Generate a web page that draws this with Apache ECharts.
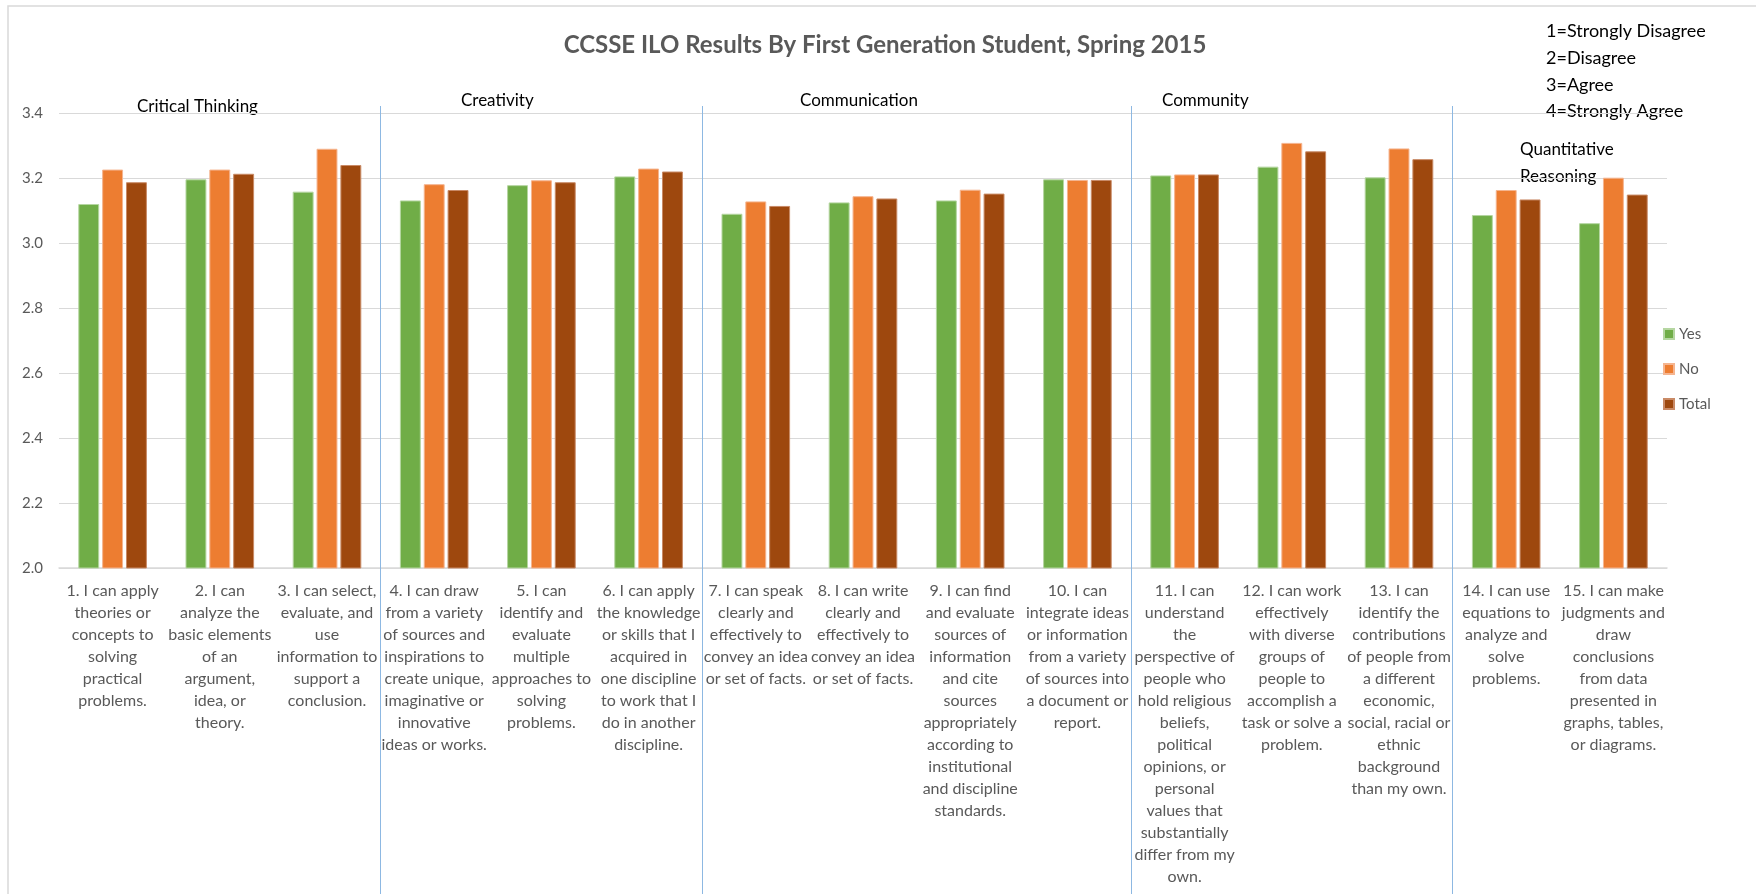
<!DOCTYPE html>
<html>
<head>
<meta charset="utf-8">
<script src="https://cdn.jsdelivr.net/npm/echarts@6/dist/echarts.min.js"></script>
<style>
  html, body { margin: 0; padding: 0; background: #fff; }
  #main { width: 1756px; height: 894px; }
</style>
</head>
<body>
<div id="main"></div>
<script>
// categories (wrapped the way the reference wraps them)
const categories = [
  "1. I can apply\ntheories or\nconcepts to\nsolving\npractical\nproblems.",
  "2. I can\nanalyze the\nbasic elements\nof an\nargument,\nidea, or\ntheory.",
  "3. I can select,\nevaluate, and\nuse\ninformation to\nsupport a\nconclusion.",
  "4. I can draw\nfrom a variety\nof sources and\ninspirations to\ncreate unique,\nimaginative or\ninnovative\nideas or works.",
  "5. I can\nidentify and\nevaluate\nmultiple\napproaches to\nsolving\nproblems.",
  "6. I can apply\nthe knowledge\nor skills that I\nacquired in\none discipline\nto work that I\ndo in another\ndiscipline.",
  "7. I can speak\nclearly and\neffectively to\nconvey an idea\nor set of facts.",
  "8. I can write\nclearly and\neffectively to\nconvey an idea\nor set of facts.",
  "9. I can find\nand evaluate\nsources of\ninformation\nand cite\nsources\nappropriately\naccording to\ninstitutional\nand discipline\nstandards.",
  "10. I can\nintegrate ideas\nor information\nfrom a variety\nof sources into\na document or\nreport.",
  "11. I can\nunderstand\nthe\nperspective of\npeople who\nhold religious\nbeliefs,\npolitical\nopinions, or\npersonal\nvalues that\nsubstantially\ndiffer from my\nown.",
  "12. I can work\neffectively\nwith diverse\ngroups of\npeople to\naccomplish a\ntask or solve a\nproblem.",
  "13. I can\nidentify the\ncontributions\nof people from\na different\neconomic,\nsocial, racial or\nethnic\nbackground\nthan my own.",
  "14. I can use\nequations to\nanalyze and\nsolve\nproblems.",
  "15. I can make\njudgments and\ndraw\nconclusions\nfrom data\npresented in\ngraphs, tables,\nor diagrams."
];

const yesValues   = [3.12, 3.196, 3.158, 3.131, 3.178, 3.205, 3.090, 3.125, 3.131, 3.196, 3.208, 3.235, 3.202, 3.086, 3.061];
const noValues    = [3.226, 3.226, 3.290, 3.181, 3.193, 3.229, 3.128, 3.144, 3.164, 3.194, 3.211, 3.308, 3.291, 3.163, 3.201];
const totalValues = [3.187, 3.213, 3.240, 3.163, 3.187, 3.220, 3.114, 3.137, 3.152, 3.194, 3.211, 3.282, 3.258, 3.134, 3.149];

const seriesNames = ["Yes", "No", "Total"];
const yTicks = [2.0, 2.2, 2.4, 2.6, 2.8, 3.0, 3.2, 3.4];

// group boundaries (after category n)
const dividers = [3, 6, 10, 13];
const scaleKey = ["1=Strongly Disagree", "2=Disagree", "3=Agree", "4=Strongly Agree"];

const colors = ["#70AD47", "#ED7D31", "#9E480E"];
const grey = "#595959";
const labelFont = '"Liberation Sans Narrow", Lato, sans-serif';
const textFont = 'Lato, "Open Sans", sans-serif';

let chart = echarts.init(document.getElementById('main'));

let option = {
  animation: false,
  title: {
    text: 'CCSSE ILO Results By First Generation Student, Spring 2015',
    left: 880,
    textAlign: 'center',
    top: 28,
    textStyle: { color: grey, fontSize: 24, fontWeight: 'bold', fontFamily: textFont }
  },
  legend: {
    orient: 'vertical',
    left: 1658,
    top: 319,
    icon: 'rect',
    itemWidth: 10,
    itemHeight: 10,
    itemGap: 15,
    data: seriesNames,
    textStyle: { color: grey, fontSize: 15, lineHeight: 20, fontFamily: textFont }
  },
  grid: [
    { left: 59, right: 89, top: 113, bottom: 326, containLabel: false },
    { left: 59, right: 89, top: 106, bottom: 0, containLabel: false }
  ],
  xAxis: [
    {
      type: 'category',
      gridIndex: 0,
      data: categories,
      axisTick: { show: false },
      axisLine: { show: true, lineStyle: { color: '#D9D9D9', width: 1.5 } },
      axisLabel: {
        interval: 0,
        margin: 12,
        color: grey,
        fontSize: 16,
        lineHeight: 22,
        fontFamily: labelFont,
        align: 'center'
      }
    },
    { type: 'value', gridIndex: 1, min: 0, max: 15, show: false }
  ],
  yAxis: [
    {
      type: 'value',
      gridIndex: 0,
      min: yTicks[0],
      max: yTicks[yTicks.length - 1],
      interval: 0.2,
      axisLine: { show: false },
      axisTick: { show: false },
      splitLine: { lineStyle: { color: '#D9D9D9' } },
      axisLabel: {
        color: grey,
        fontSize: 15,
        margin: 16,
        fontFamily: textFont,
        formatter: v => v.toFixed(1)
      }
    },
    { type: 'value', gridIndex: 1, min: 0, max: 1, show: false }
  ],
  series: [
    { name: seriesNames[0], type: 'bar', data: yesValues, itemStyle: { color: colors[0], borderColor: '#B5D6A1', borderWidth: 1 }, barGap: '14%', barCategoryGap: '36%' },
    { name: seriesNames[1], type: 'bar', data: noValues, itemStyle: { color: colors[1], borderColor: '#F5B590', borderWidth: 1 } },
    { name: seriesNames[2], type: 'bar', data: totalValues, itemStyle: { color: colors[2], borderColor: '#C98A66', borderWidth: 1 } },
    {
      // group dividers drawn on a hidden 0..15 value axis
      type: 'line',
      xAxisIndex: 1,
      yAxisIndex: 1,
      data: [[0, 0]],
      showSymbol: false,
      lineStyle: { opacity: 0 },
      silent: true,
      markLine: {
        silent: true,
        symbol: ['none', 'none'],
        label: { show: false },
        lineStyle: { color: '#8DB8E2', width: 1, type: 'solid' },
        data: dividers.map(d => ({ xAxis: d }))
      }
    }
  ],
  graphic: [
    // outer chart frame
    { type: 'rect', shape: { x: 8, y: 6, width: 1800, height: 950 }, style: { fill: 'none', stroke: '#D9D9D9', lineWidth: 1.5 }, silent: true },
    // group headings
    { type: 'text', left: 137, top: 98, style: { text: 'Critical Thinking', fill: '#000', font: '17px ' + textFont } },
    { type: 'text', left: 461, top: 92, style: { text: 'Creativity', fill: '#000', font: '17px ' + textFont } },
    { type: 'text', left: 800, top: 92, style: { text: 'Communication', fill: '#000', font: '17px ' + textFont } },
    { type: 'text', left: 1162, top: 92, style: { text: 'Community', fill: '#000', font: '17px ' + textFont } },
    { type: 'text', left: 1520, top: 136, style: { text: 'Quantitative\nReasoning', fill: '#000', font: '17px ' + textFont, align: 'center', lineHeight: 27 } },
    // agreement scale key
    { type: 'text', left: 1546, top: 18, style: { text: scaleKey.join('\n'), fill: '#000', font: '18px ' + textFont, lineHeight: 26.7 } }
  ]
};

chart.setOption(option);
</script>
</body>
</html>
